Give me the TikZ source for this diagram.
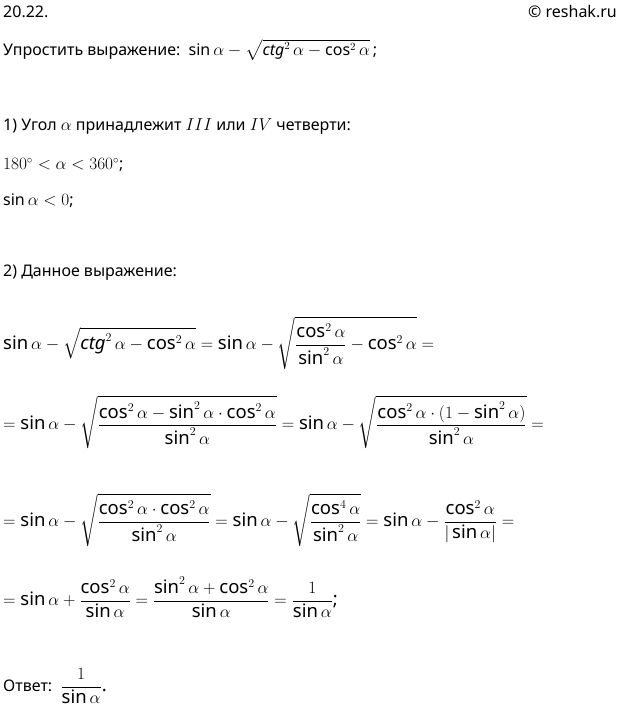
\documentclass[tikz,border=0pt]{standalone}
\usepackage{amsmath}
\usepackage{fontspec}
\setmainfont{Noto Sans}
\begin{document}
\begin{tikzpicture}[x=1pt,y=1pt,yscale=-1]
\tikzset{txt/.style={anchor=west,inner sep=0pt,font=\fontsize{16}{19}\selectfont},
  eq/.style={anchor=west,inner sep=0pt,font=\fontsize{18.5}{22}\selectfont}}
\useasboundingbox (0,0) rectangle (619,709);

% header
\node[txt,font=\fontsize{16}{19}\selectfont\bfseries] (num) at (3,12) {20.22.};
\node[anchor=east,inner sep=0pt,font=\fontsize{16}{19}\selectfont] (site) at (617,12) {© reshak.ru};
\node[txt] (task) at (3,50) {Упростить выражение:\ \ $\sin\alpha-\sqrt{\mathit{ctg}^2\,\alpha-\cos^2\alpha}\,$;};

% part 1
\node[txt] (p1) at (3,127) {1) Угол $\alpha$ принадлежит $III$ или $IV$ четверти:};
\node[txt] (ang) at (3,165) {$180^\circ<\alpha<360^\circ$;};
\node[txt] (sgn) at (3,201) {$\sin\alpha<0$;};

% part 2
\node[txt] (p2) at (3,273) {2) Данное выражение:};
\node[eq] (e1) at (3,343) {$\sin\alpha-\sqrt{\mathit{ctg}^2\,\alpha-\cos^2\alpha}=\sin\alpha-\sqrt{\dfrac{\cos^2\alpha}{\sin^2\alpha}-\cos^2\alpha}=$};
\node[eq] (e2) at (3,422) {$=\sin\alpha-\sqrt{\dfrac{\cos^2\alpha-\sin^2\alpha\cdot\cos^2\alpha}{\sin^2\alpha}}=\sin\alpha-\sqrt{\dfrac{\cos^2\alpha\cdot(1-\sin^2\alpha)}{\sin^2\alpha}}=$};
\node[eq] (e3) at (3,520) {$=\sin\alpha-\sqrt{\dfrac{\cos^2\alpha\cdot\cos^2\alpha}{\sin^2\alpha}}=\sin\alpha-\sqrt{\dfrac{\cos^4\alpha}{\sin^2\alpha}}=\sin\alpha-\dfrac{\cos^2\alpha}{|\sin\alpha|}=$};
\node[eq] (e4) at (3,597) {$=\sin\alpha+\dfrac{\cos^2\alpha}{\sin\alpha}=\dfrac{\sin^2\alpha+\cos^2\alpha}{\sin\alpha}=\dfrac{1}{\sin\alpha}$;};

% answer
\node[eq] (ans) at (3,686) {\fontsize{16}{19}\selectfont Ответ:\ \ \fontsize{18.5}{22}\selectfont$\dfrac{1}{\sin\alpha}$.};
\end{tikzpicture}
\end{document}
